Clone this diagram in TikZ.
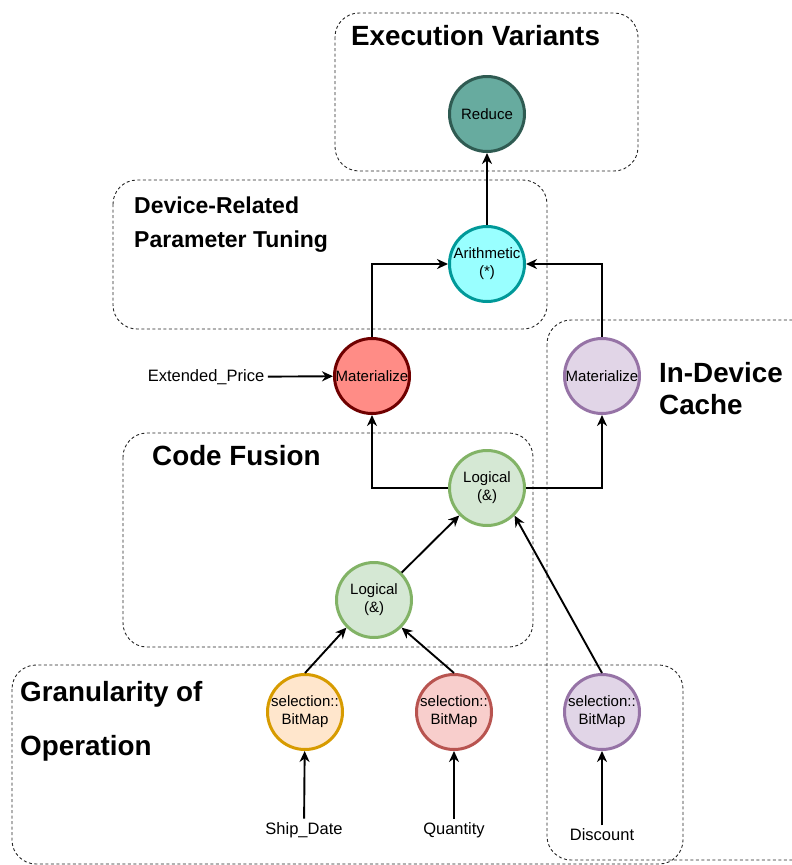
\documentclass[tikz,border=0pt]{standalone}
\usepackage{fontspec}
\setmainfont{Liberation Sans}
\usetikzlibrary{arrows.meta}

\definecolor{redFill}{HTML}{FF8C86}
\definecolor{redLine}{HTML}{6F0000}
\definecolor{tealFill}{HTML}{67AB9F}
\definecolor{tealLine}{HTML}{2F5B52}
\definecolor{cyanFill}{HTML}{99FFFF}
\definecolor{cyanLine}{HTML}{009999}
\definecolor{purpFill}{HTML}{E1D5E7}
\definecolor{purpLine}{HTML}{9673A6}
\definecolor{greenFill}{HTML}{D5E8D4}
\definecolor{greenLine}{HTML}{82B366}
\definecolor{orngFill}{HTML}{FFE6CC}
\definecolor{orngLine}{HTML}{D79B00}
\definecolor{pinkFill}{HTML}{F8CECC}
\definecolor{pinkLine}{HTML}{B85450}

\begin{document}
\begin{tikzpicture}[x=1pt,y=-1pt,
  group/.style={draw=black!85, line width=0.9pt, dash pattern=on 3pt off 2.5pt, rounded corners=24pt},
  op/.style={circle, line width=3pt, minimum size=75pt, inner sep=0pt, align=center,
             font=\fontsize{15}{18}\selectfont},
  grouptitle/.style={anchor=base west, inner sep=0pt, font=\fontsize{27.8}{32}\selectfont\bfseries},
  smalltitle/.style={grouptitle, font=\fontsize{23}{27}\selectfont\bfseries},
  lbl/.style={font=\fontsize{16.5}{20}\selectfont, inner sep=3.5pt},
  arr/.style={-{Stealth[length=11pt,width=10pt,inset=3.5pt]}, line width=1.9pt}]

\clip (0,0) rectangle (792,865);

% dashed group outlines
\draw[group] (335,13) rectangle (638,171);
\draw[group] (113,180) rectangle (547,329);
\draw[group] (547,320) rectangle (820,860);
\draw[group] (123,433) rectangle (533,647);
\draw[group] (12,665) rectangle (683,864);

% group titles
\node[grouptitle] (tEV) at (351,45) {Execution Variants};
\node[smalltitle] (tDR1) at (134,213) {Device-Related};
\node[smalltitle] (tDR2) at (134,247) {Parameter Tuning};
\node[grouptitle] (tCF) at (152,465) {Code Fusion};
\node[grouptitle] (tIDC1) at (659,382) {In-Device};
\node[grouptitle] (tIDC2) at (659,414) {Cache};
\node[grouptitle] (tGO1) at (20,701) {Granularity of};
\node[grouptitle] (tGO2) at (20,755) {Operation};

% operators
\node[op, draw=tealLine, fill=tealFill] (reduce) at (487,114) {Reduce};
\node[op, draw=cyanLine, fill=cyanFill] (arith) at (487,264) {Arithmetic\\(*)};
\node[op, draw=redLine, fill=redFill] (matR) at (372,376) {Materialize};
\node[op, draw=purpLine, fill=purpFill] (matP) at (602,376) {Materialize};
\node[op, draw=greenLine, fill=greenFill] (log2) at (487,488) {Logical\\(\&)};
\node[op, draw=greenLine, fill=greenFill] (log1) at (374,600) {Logical\\(\&)};
\node[op, draw=orngLine, fill=orngFill] (selA) at (305,712) {selection::\\BitMap};
\node[op, draw=pinkLine, fill=pinkFill] (selB) at (454,712) {selection::\\BitMap};
\node[op, draw=purpLine, fill=purpFill] (selC) at (602,712) {selection::\\BitMap};

% input columns
\node[lbl] (price) at (206,377) {Extended\_Price};
\node[lbl] (ship) at (304,830) {Ship\_Date};
\node[lbl] (qty) at (454,830) {Quantity};
\node[lbl] (disc) at (602,835) {Discount};

% data flow
\draw[arr] (arith) -- (reduce);
\draw[arr] (matR.north) |- (arith.west);
\draw[arr] (matP.north) |- (arith.east);
\draw[arr] (price) -- (matR);
\draw[arr] (log2.west) -| (matR.south);
\draw[arr] (log2.east) -| (matP.south);
\draw[arr] (log1) -- (log2);
\draw[arr] (selA.north) -- (log1.south west);
\draw[arr] (selB.north) -- (log1.south east);
\draw[arr] (selC.north) -- (log2.south east);
\draw[arr] (ship) -- (selA);
\draw[arr] (qty) -- (selB);
\draw[arr] (disc) -- (selC);

\end{tikzpicture}
\end{document}
